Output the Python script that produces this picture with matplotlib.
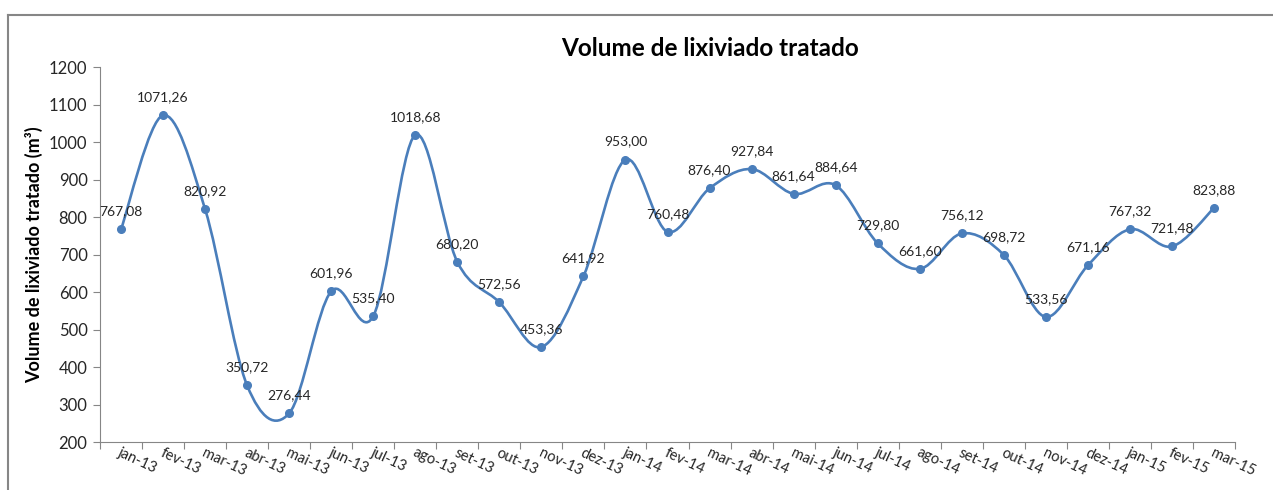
import numpy as np
import matplotlib
matplotlib.use("Agg")
import matplotlib.pyplot as plt
from matplotlib.path import Path
from matplotlib.patches import PathPatch
from matplotlib.lines import Line2D

plt.rcParams['font.family'] = ['Lato', 'DejaVu Sans']

months = ["jan-13", "fev-13", "mar-13", "abr-13", "mai-13", "jun-13", "jul-13",
          "ago-13", "set-13", "out-13", "nov-13", "dez-13", "jan-14", "fev-14",
          "mar-14", "abr-14", "mai-14", "jun-14", "jul-14", "ago-14", "set-14",
          "out-14", "nov-14", "dez-14", "jan-15", "fev-15", "mar-15"]
volume = [767.08, 1071.26, 820.92, 350.72, 276.44, 601.96, 535.40, 1018.68,
          680.20, 572.56, 453.36, 641.92, 953.00, 760.48, 876.40, 927.84,
          861.64, 884.64, 729.80, 661.60, 756.12, 698.72, 533.56, 671.16,
          767.32, 721.48, 823.88]

blue = '#4A7EBB'
gray = '#868686'

fig = plt.figure(figsize=(12.73, 4.90), dpi=100)
W, H = 1273, 490
ax = fig.add_axes([100 / W, 1 - 442 / H, (1235 - 100) / W, (442 - 67) / H])

x = np.arange(len(volume))
y = np.array(volume)

# smoothed line like Excel: cubic bezier segments through the points
verts = [(x[0], y[0])]
codes = [Path.MOVETO]
n = len(x)
for i in range(n - 1):
    p0 = np.array([x[max(i - 1, 0)], y[max(i - 1, 0)]])
    p1 = np.array([x[i], y[i]])
    p2 = np.array([x[i + 1], y[i + 1]])
    p3 = np.array([x[min(i + 2, n - 1)], y[min(i + 2, n - 1)]])
    c1 = p1 + (p2 - p0) / 6
    c2 = p2 - (p3 - p1) / 6
    verts += [tuple(c1), tuple(c2), tuple(p2)]
    codes += [Path.CURVE4] * 3
ax.add_patch(PathPatch(Path(verts, codes), fill=False, edgecolor=blue, lw=1.9,
                       capstyle='round', joinstyle='round'))
ax.plot(x, y, 'o', color=blue, markersize=5.5, zorder=3)

for xi, yi in zip(x, y):
    ax.annotate(f"{yi:.2f}".replace('.', ','), (xi, yi), xytext=(0, 18),
                textcoords='offset pixels', ha='center', va='center',
                fontsize=10, color='#262626')

ax.set_xlim(-0.5, n - 0.5)
ax.set_ylim(200, 1200)
ax.set_yticks(np.arange(200, 1201, 100))
ax.tick_params(axis='y', labelsize=12, colors=gray, labelcolor='#262626',
               length=5, direction='out', pad=4)

ax.set_xticks(np.arange(-0.5, n, 1.0))
ax.set_xticklabels([])
ax.tick_params(axis='x', colors=gray, length=5, direction='out')
for xi, m in zip(x, months):
    ax.text(xi + 0.02, 190, m, rotation=-25, rotation_mode='anchor',
            ha='left', va='top', fontsize=10.5, color='#262626',
            transform=ax.transData, clip_on=False)

for s in ['top', 'right']:
    ax.spines[s].set_visible(False)
for s in ['left', 'bottom']:
    ax.spines[s].set_color(gray)

ax.set_ylabel("Volume de lixiviado tratado (m³)", fontsize=13, fontweight='bold',
              color='black', labelpad=4)
fig.text(710 / W, 1 - 48 / H, "Volume de lixiviado tratado", ha='center',
         va='center', fontsize=17.5, fontweight='bold')

# chart area border (left and top edges visible)
fig.add_artist(Line2D([8 / W, 8 / W], [0, 1 - 15 / H], color=gray, lw=1.5,
                      transform=fig.transFigure))
fig.add_artist(Line2D([8 / W, 1], [1 - 15 / H, 1 - 15 / H], color=gray, lw=1.5,
                      transform=fig.transFigure))

fig.savefig('out.png', dpi=100, facecolor='white')
